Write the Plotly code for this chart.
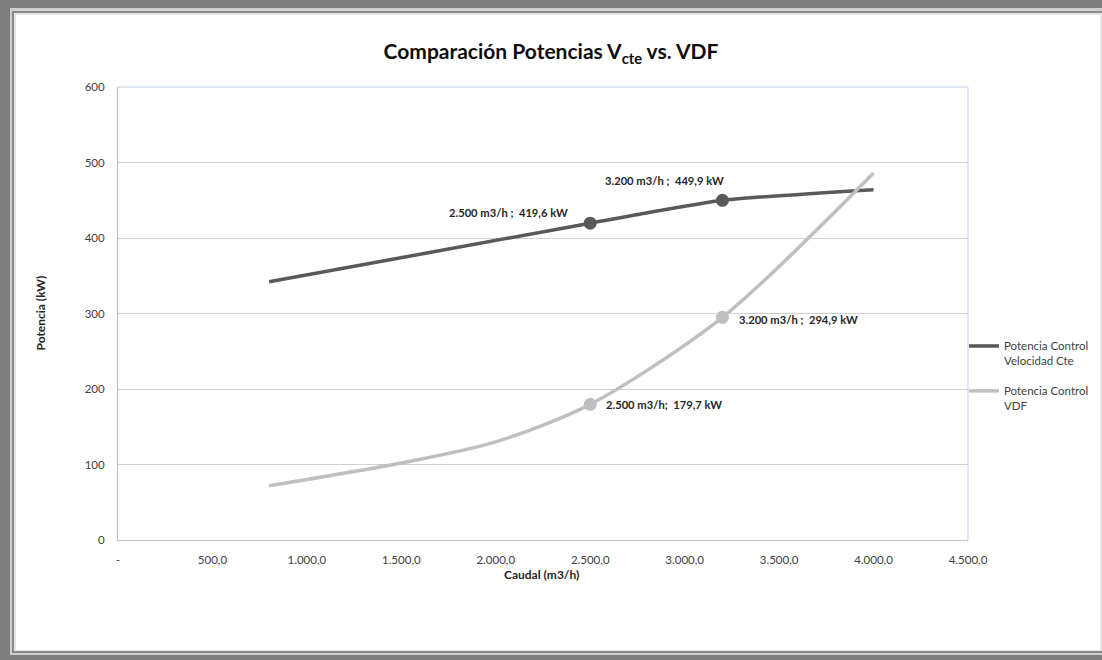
import plotly.graph_objects as go

# ---------------- data ----------------
caudal_vcte = [800, 2500, 3200, 4000]
potencia_vcte = [342, 419.6, 449.9, 464]

caudal_vdf = [800, 1500, 2000, 2500, 3200, 4000]
potencia_vdf = [72, 102, 130, 179.7, 294.9, 486]

marked_caudal = [2500, 3200]

x_tick_vals = [0, 500, 1000, 1500, 2000, 2500, 3000, 3500, 4000, 4500]
x_tick_text = ["-", "500,0", "1.000,0", "1.500,0", "2.000,0", "2.500,0",
               "3.000,0", "3.500,0", "4.000,0", "4.500,0"]
y_tick_vals = [0, 100, 200, 300, 400, 500, 600]

series_names = ["Potencia Control<br>Velocidad Cte", "Potencia Control<br>VDF"]

label_vcte = ["2.500 m3/h ;  419,6 kW", "3.200 m3/h ;  449,9 kW"]
label_vdf = ["2.500 m3/h;  179,7 kW", "3.200 m3/h ;  294,9 kW"]

# ---------------- styling ----------------
W, H = 1102, 660
L, R, T, B = 118, 968, 87, 540  # plot area in pixels
FONT = "Lato"
DARK = "#595959"
LIGHT = "#bfbfbf"
TXT = "#404040"


def px(x):
    return (x - L) / (R - L)


def py(y):
    return (B - y) / (B - T)


fig = go.Figure()

fig.add_trace(go.Scatter(
    x=caudal_vcte, y=potencia_vcte, mode="lines", name=series_names[0],
    line=dict(color=DARK, width=3.5, shape="spline", smoothing=0.5),
    legendgroup="a"))
fig.add_trace(go.Scatter(
    x=caudal_vdf, y=potencia_vdf, mode="lines", name=series_names[1],
    line=dict(color=LIGHT, width=3.5, shape="spline", smoothing=0.8),
    legendgroup="b"))

mv = [potencia_vcte[caudal_vcte.index(c)] for c in marked_caudal]
md = [potencia_vdf[caudal_vdf.index(c)] for c in marked_caudal]
fig.add_trace(go.Scatter(x=marked_caudal, y=mv, mode="markers", showlegend=False,
                         marker=dict(color=DARK, size=13)))
fig.add_trace(go.Scatter(x=marked_caudal, y=md, mode="markers", showlegend=False,
                         marker=dict(color=LIGHT, size=13)))

afont = dict(family=FONT, size=11.2, color="#262626")
annots = []
# Vcte labels
annots.append(dict(x=marked_caudal[0], y=mv[0], text="<b>%s</b>" % label_vcte[0],
                   xanchor="right", yanchor="middle", xshift=-20, yshift=11,
                   showarrow=False, font=afont))
annots.append(dict(x=marked_caudal[1], y=mv[1], text="<b>%s</b>" % label_vcte[1],
                   xanchor="center", yanchor="middle", xshift=-58, yshift=20,
                   showarrow=False, font=afont))
# VDF labels
annots.append(dict(x=marked_caudal[0], y=md[0], text="<b>%s</b>" % label_vdf[0],
                   xanchor="left", yanchor="middle", xshift=14, yshift=0,
                   showarrow=False, font=afont))
annots.append(dict(x=marked_caudal[1], y=md[1], text="<b>%s</b>" % label_vdf[1],
                   xanchor="left", yanchor="middle", xshift=15, yshift=-2,
                   showarrow=False, font=afont))
# axis titles
annots.append(dict(xref="paper", yref="paper", x=px(541), y=py(584),
                   text="<b>Caudal (m3/h)</b>", showarrow=False,
                   font=dict(family=FONT, size=12, color="#262626")))
annots.append(dict(xref="paper", yref="paper", x=px(30), y=py(313),
                   text="<b>Potencia (kW)</b>", showarrow=False, textangle=-90,
                   font=dict(family=FONT, size=12, color="#262626")))

# frame shapes
shapes = [
    dict(type="rect", xref="paper", yref="paper", layer="below",
         x0=px(10), x1=px(1104), y0=py(655), y1=py(8),
         fillcolor="#cfcfcf", line=dict(width=0)),
    dict(type="rect", xref="paper", yref="paper", layer="below",
         x0=px(12), x1=px(1104), y0=py(653), y1=py(11),
         fillcolor="#8a8a8a", line=dict(width=0)),
    dict(type="rect", xref="paper", yref="paper", layer="below",
         x0=px(14), x1=px(1104), y0=py(651), y1=py(13),
         fillcolor="#e6e6e6", line=dict(width=0)),
    dict(type="rect", xref="paper", yref="paper", layer="below",
         x0=px(16), x1=px(1100), y0=py(650), y1=py(15),
         fillcolor="white", line=dict(width=0)),
    # plot area border top / right (light blue)
    dict(type="line", xref="paper", yref="paper", x0=0, x1=1, y0=1, y1=1,
         line=dict(color="#c5d3e8", width=1)),
    dict(type="line", xref="paper", yref="paper", x0=1, x1=1, y0=0, y1=1,
         line=dict(color="#c5d3e8", width=1)),
]

fig.update_layout(
    width=W, height=H, autosize=False,
    margin=dict(l=L, r=W - R, t=T, b=H - B, pad=0, autoexpand=False),
    paper_bgcolor="#7f7f7f",
    plot_bgcolor="white",
    font=dict(family=FONT, size=11, color=TXT),
    title=dict(text="<b>Comparación Potencias V<sub>cte</sub> vs. VDF</b>",
               x=px(551), xref="paper", xanchor="center",
               y=1 - 52 / H, yref="container", yanchor="middle",
               font=dict(family=FONT, size=21, color="#0d0d0d")),
    xaxis=dict(range=[0, 4500], tickvals=x_tick_vals, ticktext=x_tick_text,
               showgrid=False, zeroline=False, showline=True, linecolor="#bfbfbf",
               linewidth=1, ticks="", ticklabelstandoff=9,
               tickfont=dict(family=FONT, size=11.5, color=TXT)),
    yaxis=dict(range=[0, 600], tickvals=y_tick_vals, showgrid=True,
               gridcolor="#d0d0d0", gridwidth=1, zeroline=False, showline=True,
               linecolor="#bfbfbf", linewidth=1, ticks="", ticklabelstandoff=10,
               tickfont=dict(family=FONT, size=11.5, color=TXT)),
    legend=dict(x=px(964), y=py(332), xanchor="left", yanchor="top",
                bgcolor="rgba(0,0,0,0)", tracegroupgap=12, valign="top",
                font=dict(family=FONT, size=11.5, color=TXT),
                itemwidth=30),
    annotations=annots,
    shapes=shapes,
    showlegend=True,
)

fig.write_html("out.html",
               config={"displayModeBar": False, "responsive": False},
               post_script="document.body.style.margin='0px';"
                           "document.body.style.overflow='hidden';")
